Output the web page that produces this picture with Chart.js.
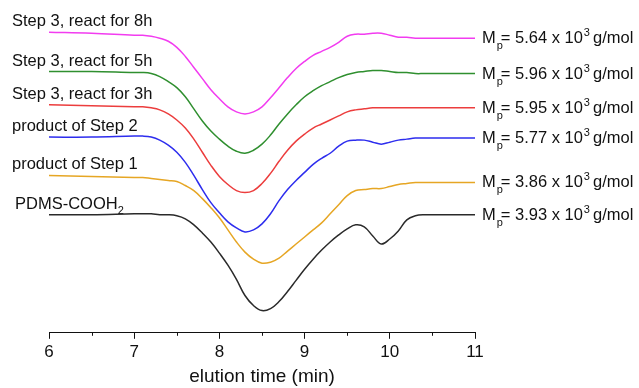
<!DOCTYPE html>
<html>
<head>
<meta charset="utf-8">
<script src="https://cdn.jsdelivr.net/npm/chart.js@4"></script>
<style>
  html, body { margin: 0; padding: 0; background: #fff; }
  #wrap { width: 639px; height: 388px; position: relative; }
</style>
</head>
<body>
<div id="wrap"><canvas id="gpc"></canvas></div>
<script>
// elution time (min), shared by all traces
const times = [6, 6.5, 7, 7.1, 7.2, 7.3, 7.4, 7.5, 7.6, 7.7, 7.8, 7.9, 8, 8.1, 8.2, 8.3, 8.4, 8.5, 8.6, 8.7,
  8.8, 8.9, 9, 9.1, 9.2, 9.3, 9.4, 9.5, 9.6, 9.7, 9.8, 9.9, 10, 10.1, 10.2, 10.3, 10.4, 10.7, 11];

// detector signal (arbitrary units, traces already offset)
const step3h8 = [298, 297, 295, 295, 294, 292, 289, 283, 274, 263, 252, 241, 232, 224, 219, 217, 219, 224, 233, 243,
  253, 262, 269, 275, 279, 283, 288, 294, 296, 296, 297, 297, 295, 293, 293, 292, 292, 292, 292];
const step3h5 = [259, 259, 258, 258, 257, 254, 249, 243, 234, 222, 210, 200, 192, 185, 180, 178, 181, 187, 196, 207,
  217, 226, 234, 240, 245, 249, 253, 256, 258, 259, 260, 260, 259, 258, 258, 257, 257, 257, 257];
const step3h3 = [226, 225, 224, 224, 223, 221, 217, 211, 203, 192, 179, 166, 155, 147, 141, 139, 141, 148, 158, 170,
  181, 190, 197, 203, 207, 211, 215, 219, 221, 222, 223, 223, 223, 223, 223, 223, 223, 223, 223];
const step2 = [194, 194, 195, 195, 194, 191, 186, 179, 169, 156, 142, 129, 119, 110, 104, 100, 102, 108, 118, 131,
  142, 151, 159, 167, 173, 178, 185, 190, 191, 191, 189, 187, 189, 191, 192, 193, 193, 193, 193];
const step1 = [156, 155, 154, 154, 153, 152, 151, 150, 146, 141, 133, 124, 114, 102, 90, 80, 73, 69, 70, 74,
  81, 88, 95, 102, 109, 118, 127, 136, 141, 142, 143, 143, 145, 147, 148, 149, 149, 149, 149];
const pdms = [117, 117, 118, 118, 118, 117, 117, 116, 113, 107, 99, 90, 79, 67, 53, 37, 27, 22, 24, 31,
  41, 52, 63, 73, 82, 90, 97, 103, 107, 105, 96, 88, 93, 101, 112, 116, 117, 117, 117];

const seriesNames = ['Step 3, react for 8h', 'Step 3, react for 5h', 'Step 3, react for 3h',
  'product of Step 2', 'product of Step 1', 'PDMS-COOH'];
const nameSubs = ['', '', '', '', '', '2'];
const mpValues = ['5.64', '5.96', '5.95', '5.77', '3.86', '3.93'];
const colors = ['#f23cf0', '#2f8f2f', '#ec3d3d', '#2d2dee', '#e6a624', '#2a2a2a'];
const allSeries = [step3h8, step3h5, step3h3, step2, step1, pdms];

const xTicks = [6, 7, 8, 9, 10, 11];
const minorTicks = [6.5, 7.5, 8.5, 9.5, 10.5];

const FONT = '"Liberation Sans", Arial, sans-serif';

const labelPlugin = {
  id: 'traceLabels',
  afterDatasetsDraw(chart) {
    const ctx = chart.ctx;
    const xs = chart.scales.x, ys = chart.scales.y;
    ctx.save();
    ctx.fillStyle = '#111';
    ctx.textBaseline = 'alphabetic';
    ctx.textAlign = 'left';
    allSeries.forEach((vals, i) => {
      // left name
      const yl = ys.getPixelForValue(vals[0]) - 6;
      const xl = i === 5 ? 15 : 12;
      ctx.font = '16.5px ' + FONT;
      ctx.fillText(seriesNames[i], xl, yl);
      if (nameSubs[i]) {
        const w = ctx.measureText(seriesNames[i]).width;
        ctx.font = '11px ' + FONT;
        ctx.fillText(nameSubs[i], xl + w, yl + 5);
      }
      // right Mp label
      const yr = ys.getPixelForValue(vals[vals.length - 1]) + 5;
      let x = xs.getPixelForValue(11) + 7;
      ctx.font = '16.5px ' + FONT;
      ctx.fillText('M', x, yr);
      x += ctx.measureText('M').width;
      ctx.font = '11px ' + FONT;
      ctx.fillText('p', x + 1, yr + 6);
      x += 5;
      ctx.font = '16.5px ' + FONT;
      const mid = '= ' + mpValues[i] + ' x 10';
      ctx.fillText(mid, x, yr);
      x += ctx.measureText(mid).width;
      ctx.font = '11px ' + FONT;
      ctx.fillText('3', x + 1, yr - 7);
      x += ctx.measureText('3').width + 4;
      ctx.font = '16.5px ' + FONT;
      ctx.fillText('g/mol', x, yr);
    });
    // minor ticks on the x axis
    ctx.strokeStyle = '#111';
    ctx.lineWidth = 1;
    const yb = chart.chartArea.bottom;
    minorTicks.forEach(t => {
      const px = Math.round(xs.getPixelForValue(t)) + 0.5;
      ctx.beginPath();
      ctx.moveTo(px, yb);
      ctx.lineTo(px, yb + 3);
      ctx.stroke();
    });
    ctx.restore();
  }
};

new Chart(document.getElementById('gpc'), {
  type: 'line',
  data: {
    datasets: allSeries.map((vals, i) => ({
      label: seriesNames[i],
      data: vals.map((v, k) => ({ x: times[k], y: v })),
      borderColor: colors[i],
      borderWidth: 1.5,
      pointRadius: 0,
      fill: false,
      tension: 0.4
    }))
  },
  options: {
    responsive: true,
    maintainAspectRatio: false,
    animation: false,
    layout: { padding: { left: 49, right: 164, top: 10, bottom: 0 } },
    plugins: { legend: { display: false }, tooltip: { enabled: false } },
    scales: {
      x: {
        type: 'linear',
        min: 6,
        max: 11,
        afterBuildTicks: axis => { axis.ticks = xTicks.map(v => ({ value: v })); },
        grid: { drawOnChartArea: false, drawTicks: true, tickLength: 6, color: '#111' },
        border: { display: true, color: '#111', width: 1 },
        ticks: { color: '#111', font: { family: FONT, size: 17 }, padding: 3, maxRotation: 0 },
        title: { display: true, text: 'elution time (min)', color: '#111',
          font: { family: FONT, size: 19 }, padding: { top: 0, bottom: 0 } }
      },
      y: { display: false, min: 0, max: 320 }
    }
  },
  plugins: [labelPlugin]
});
</script>
</body>
</html>
